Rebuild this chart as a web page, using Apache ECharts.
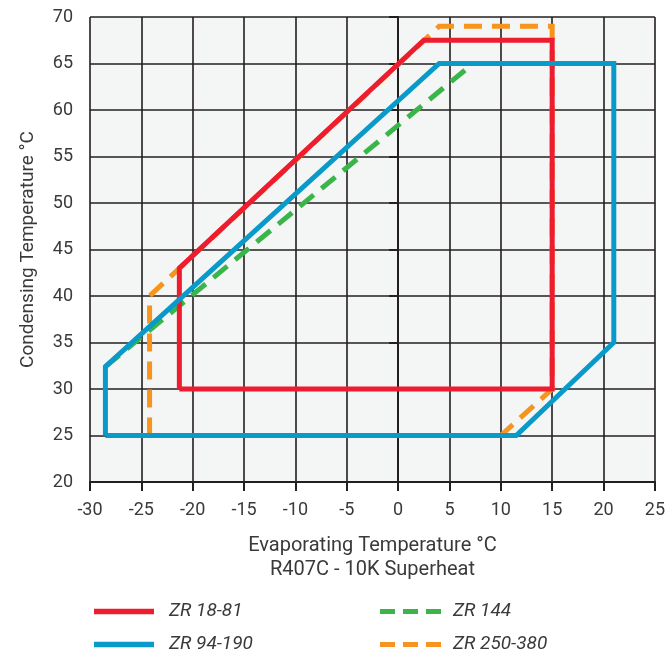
<!DOCTYPE html>
<html>
<head>
<meta charset="utf-8">
<script src="https://cdn.jsdelivr.net/npm/echarts@6/dist/echarts.min.js"></script>
<style>html,body{margin:0;padding:0;background:#fff}#c{width:668px;height:656px}</style>
</head>
<body>
<div id="c"></div>
<script>
const seriesNames = ['ZR 18-81', 'ZR 94-190', 'ZR 144', 'ZR 250-380'];
const zr1881 = [[-21.3,30],[-21.3,43],[2.5,67.5],[15,67.5],[15,30],[-21.3,30]];
const zr94190 = [[-28.5,25],[-28.5,32.4],[4,65],[21,65],[21,35],[11.5,25],[-28.5,25]];
const zr144 = [[-28.5,32.4],[7.3,65]];
const zr250380 = [[-24.2,25],[-24.2,40],[4,69],[15,69],[15,30],[10,25],[-24.2,25]];
const xTicks = {min:-30, max:25, step:5};
const yTicks = {min:20, max:70, step:5};

const font = 'Roboto, sans-serif';
const ink = '#231f20';
const txt = '#3a3a3a';
const chart = echarts.init(document.getElementById('c'), null, {renderer:'canvas'});
const mk = (name, data, color, dashed, z) => ({
  name, type:'line', data, symbol:'none', z,
  lineStyle:{color, width:5, type: dashed ? [18,10] : 'solid', join:'miter', cap:'butt'},
  itemStyle:{color}, animation:false
});
const dashIcon = 'path://M0,0h15v5h-15z M23,0h15v5h-15z M46,0h15v5h-15z';
const leg = (name, left, top, icon, w, gap) => ({
  left, top, padding:0, itemWidth:w, itemHeight:5.5, icon, data:[name], selectedMode:false,
  textStyle:{fontFamily:font, fontSize:19, fontStyle:'italic', color:txt, padding:[0,0,0,gap]}
});
chart.setOption({
  animation:false,
  grid:{left:90, right:12, top:17, bottom:174, show:true, backgroundColor:'#f4f5f5', borderWidth:0},
  xAxis:{type:'value', min:xTicks.min, max:xTicks.max, interval:xTicks.step,
    name:'Evaporating Temperature °C\nR407C - 10K Superheat', nameLocation:'middle', nameGap:52,
    nameTextStyle:{fontFamily:font, fontSize:20, color:txt, lineHeight:24},
    axisLine:{show:true, lineStyle:{color:ink, width:2}},
    axisTick:{show:true, length:9, lineStyle:{color:ink, width:2}},
    axisLabel:{margin:19, fontFamily:font, fontSize:18, color:txt},
    splitLine:{show:true, lineStyle:{color:ink, width:1.6}}},
  yAxis:{type:'value', min:yTicks.min, max:yTicks.max, interval:yTicks.step,
    name:'Condensing Temperature °C', nameLocation:'middle', nameGap:52,
    nameTextStyle:{fontFamily:font, fontSize:19, color:txt},
    axisLine:{show:true, lineStyle:{color:ink, width:2}},
    axisTick:{show:true, length:9, lineStyle:{color:ink, width:2}},
    axisLabel:{margin:17, fontFamily:font, fontSize:18, color:txt},
    splitLine:{show:true, lineStyle:{color:ink, width:1.6}}},
  legend:[
    leg(seriesNames[0], 94, 602, 'rect', 60, 10),
    leg(seriesNames[1], 94, 635, 'rect', 60, 10),
    leg(seriesNames[2], 380, 602, dashIcon, 61, 7),
    leg(seriesNames[3], 380, 635, dashIcon, 61, 7)
  ],
  series:[
    mk(seriesNames[3], zr250380, '#f7941d', true, 2),
    mk(seriesNames[2], zr144, '#3ab54a', true, 3),
    mk(seriesNames[0], zr1881, '#ed1c2e', false, 4),
    mk(seriesNames[1], zr94190, '#0a9ac9', false, 5)
  ]
});
</script>
</body>
</html>
